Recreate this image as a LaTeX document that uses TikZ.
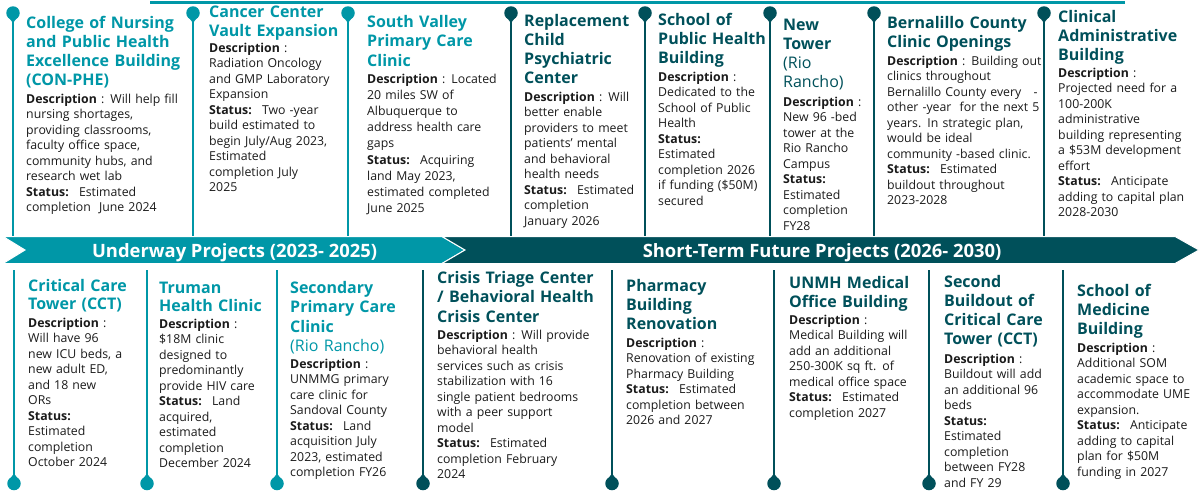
\documentclass[tikz,border=0pt]{standalone}
\usepackage{fontspec}
\setmainfont{Open Sans}
\definecolor{lt}{HTML}{0097A7}
\definecolor{dk}{HTML}{00505A}
\definecolor{txt}{HTML}{1A1A1A}
\newcommand{\Dsc}{\textbf{Description}}
\newcommand{\Stt}{\textbf{Status:}}
\begin{document}
\begin{tikzpicture}[x=1pt,y=-1pt,
  pindot/.style={circle,inner sep=0pt,minimum size=13.5pt,draw=none},
  stem/.style={line width=2pt},
  ttl/.style={anchor=base west,inner sep=0pt,align=left,text width=#1,
    font=\fontsize{16}{19}\selectfont\bfseries},
  bdy/.style={anchor=base west,inner sep=0pt,align=left,text width=#1,text=txt,
    font=\fontsize{12.3}{15.5}\selectfont},
  bandlbl/.style={anchor=base,inner sep=0pt,text=white,font=\fontsize{18.4}{21}\selectfont\bfseries}]
\useasboundingbox (0,0) rectangle (1200,491);
% top rule
\coordinate (tl) at (150,2);
\coordinate (tr) at (1125,2);
\draw[lt,line width=3pt] (tl) -- (tr);
% bands
\fill[lt,draw=white,line width=1pt] (3,236.5) -- (442,236.5) -- (465,250) -- (442,263.5) -- (3,263.5) -- (25,250) -- cycle;
\fill[dk,draw=white,line width=1pt] (442,236.5) -- (1175,236.5) -- (1199,250) -- (1175,263.5) -- (442,263.5) -- (465,250) -- cycle;
\node[bandlbl] (under) at (234.5,257) {Underway Projects (2023- 2025)};
\node[bandlbl] (future) at (822,257) {Short-Term Future Projects (2026- 2030)};
% top pins
\foreach \n/\x/\c in {1/13/lt,2/193/lt,3/348/lt,4/511/dk,5/645/dk,6/770/dk,7/874/dk,8/1044/dk}{
  \node[pindot,fill=\c] (p\n) at (\x,13) {};
  \fill[\c] ({\x-5},16.5) -- ({\x+5},16.5) -- (\x,23) -- cycle;
  \coordinate (pe\n) at (\x,236);
  \draw[stem,draw=\c] (p\n.south) -- (pe\n);
}
% bottom pins
\foreach \n/\x/\c in {1/14/lt,2/147/lt,3/277/lt,4/423/dk,5/612/dk,6/774/dk,7/929/dk,8/1063/dk}{
  \node[pindot,fill=\c] (q\n) at (\x,483.5) {};
  \fill[\c] ({\x-5},480) -- ({\x+5},480) -- (\x,473.5) -- cycle;
  \coordinate (qs\n) at (\x,270);
  \draw[stem,draw=\c] (qs\n) -- (q\n.north);
}
% ---- top cards
\node[ttl=180pt,text=lt] (t1) at (26,28) {College of Nursing\\and Public Health\\Excellence Building\\(CON-PHE)};
\node[bdy=180pt] (d1) at (26,103) {\Dsc{} : Will help fill\\nursing shortages,\\providing classrooms,\\faculty office space,\\community hubs, and\\research wet lab\\\Stt{}~ Estimated\\completion~ June 2024};

\node[ttl=155pt,text=lt] (t2) at (209,17) {Cancer Center\\Vault Expansion};
\node[bdy=155pt] (d2) at (209,52) {\Dsc{} :\\Radiation Oncology\\and GMP Laboratory\\Expansion\\\Stt{}~ Two -year\\build estimated to\\begin July/Aug 2023,\\Estimated\\completion July\\2025};

\node[ttl=154pt,text=lt,font=\fontsize{16}{19.5}\selectfont\bfseries] (t3) at (367,27) {South Valley\\Primary Care\\Clinic};
\node[bdy=154pt,font=\fontsize{12.3}{16.2}\selectfont] (d3) at (367,83) {\Dsc{} : Located\\20 miles SW of\\Albuquerque to\\address health care\\gaps\\\Stt{}~ Acquiring\\land May 2023,\\estimated completed\\June 2025};

\node[ttl=131pt,text=dk] (t4) at (524,26) {Replacement\\Child\\Psychiatric\\Center};
\node[bdy=131pt] (d4) at (524,101) {\Dsc{} : Will\\better enable\\providers to meet\\patients’ mental\\and behavioral\\health needs\\\Stt{}~ Estimated\\completion\\January 2026};

\node[ttl=122pt,text=dk] (t5) at (658,25) {School of\\Public Health\\Building};
\node[bdy=122pt] (d5) at (658,81) {\Dsc{} :\\Dedicated to the\\School of Public\\Health\\\Stt{}\\Estimated\\completion 2026\\if funding (\$50M)\\secured};

\node[ttl=101pt,text=dk,font=\fontsize{16}{19.3}\selectfont\bfseries] (t6) at (783,30) {New\\Tower\\{\mdseries (Rio}\\{\mdseries Rancho)}};
\node[bdy=101pt] (d6) at (783,106) {\Dsc{} :\\New 96 -bed\\tower at the\\Rio Rancho\\Campus\\\Stt{}\\Estimated\\completion\\FY28};

\node[ttl=168pt,text=dk] (t7) at (887,28) {Bernalillo County\\Clinic Openings};
\node[bdy=168pt] (d7) at (887,65) {\Dsc{} : Building out\\clinics throughout\\Bernalillo County every~~ -\\other -year~ for the next 5\\years. In strategic plan,\\would be ideal\\community -based clinic.\\\Stt{}~ Estimated\\buildout throughout\\2023-2028};

\node[ttl=140pt,text=dk] (t8) at (1058,22) {Clinical\\Administrative\\Building};
\node[bdy=140pt] (d8) at (1058,77) {\Dsc{} :\\Projected need for a\\100-200K\\administrative\\building representing\\a \$53M development\\effort\\\Stt{}~ Anticipate\\adding to capital plan\\2028-2030};

% ---- bottom cards
\node[ttl=128pt,text=lt,font=\fontsize{16}{18}\selectfont\bfseries] (b1) at (28,291) {Critical Care\\Tower (CCT)};
\node[bdy=128pt] (e1) at (28,327) {\Dsc{} :\\Will have 96\\new ICU beds, a\\new adult ED,\\and 18 new\\ORs\\\Stt{}\\Estimated\\completion\\October 2024};

\node[ttl=128pt,text=lt,font=\fontsize{16}{18}\selectfont\bfseries] (b2) at (159,293) {Truman\\Health Clinic};
\node[bdy=128pt] (e2) at (159,328) {\Dsc{} :\\\$18M clinic\\designed to\\predominantly\\provide HIV care\\\Stt{}~ Land\\acquired,\\estimated\\completion\\December 2024};

\node[ttl=144pt,text=lt,font=\fontsize{16}{19.5}\selectfont\bfseries] (b3) at (290,293) {Secondary\\Primary Care\\Clinic\\{\mdseries (Rio Rancho)}};
\node[bdy=144pt] (e3) at (290,368) {\Dsc{} :\\UNMMG primary\\care clinic for\\Sandoval County\\\Stt{}~ Land\\acquisition July\\2023, estimated\\completion FY26};

\node[ttl=186pt,text=dk,font=\fontsize{16}{19.5}\selectfont\bfseries] (b4) at (437,283) {Crisis Triage Center\\/ Behavioral Health\\Crisis Center};
\node[bdy=186pt] (e4) at (437,339) {\Dsc{} : Will provide\\behavioral health\\services such as crisis\\stabilization with 16\\single patient bedrooms\\with a peer support\\model\\\Stt{}~ Estimated\\completion February\\2024};

\node[ttl=160pt,text=dk] (b5) at (626,291) {Pharmacy\\Building\\Renovation};
\node[bdy=160pt] (e5) at (626,347) {\Dsc{} :\\Renovation of existing\\Pharmacy Building\\\Stt{}~ Estimated\\completion between\\2026 and 2027};

\node[ttl=152pt,text=dk] (b6) at (789,288) {UNMH Medical\\Office Building};
\node[bdy=152pt] (e6) at (789,324) {\Dsc{} :\\Medical Building will\\add an additional\\250-300K sq ft. of\\medical office space\\\Stt{}~ Estimated\\completion 2027};

\node[ttl=130pt,text=dk,font=\fontsize{16}{19.3}\selectfont\bfseries] (b7) at (944,287) {Second\\Buildout of\\Critical Care\\Tower (CCT)};
\node[bdy=130pt] (e7) at (944,363) {\Dsc{} :\\Buildout will add\\an additional 96\\beds\\\Stt{}\\Estimated\\completion\\between FY28\\and FY 29};

\node[ttl=122pt,text=dk] (b8) at (1077,296) {School of\\Medicine\\Building};
\node[bdy=122pt] (e8) at (1077,352) {\Dsc{} :\\Additional SOM\\academic space to\\accommodate UME\\expansion.\\\Stt{}~ Anticipate\\adding to capital\\plan for \$50M\\funding in 2027};
\end{tikzpicture}
\end{document}
